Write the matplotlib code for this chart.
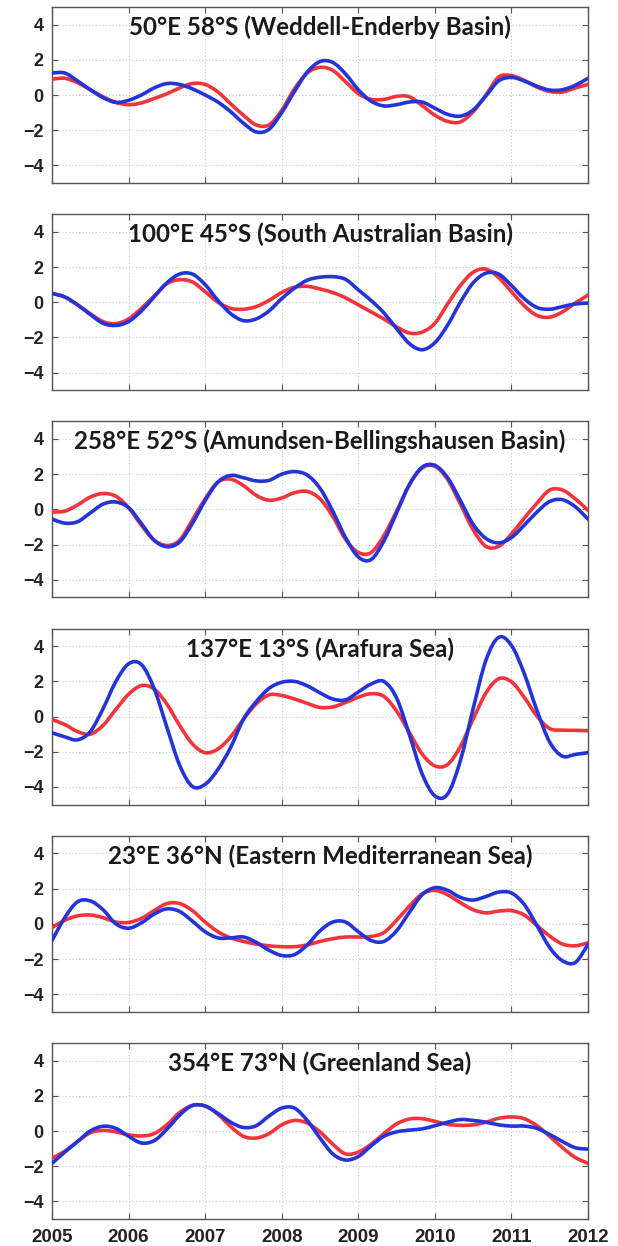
import numpy as np
import matplotlib
matplotlib.use("Agg")
import matplotlib.pyplot as plt
from matplotlib.path import Path
from matplotlib.patches import PathPatch

# Time axis: two-monthly samples from 2005 to 2012
months = np.arange(43)
time = 2005 + months / 6.0

titles = [
    "50°E 58°S (Weddell-Enderby Basin)",
    "100°E 45°S (South Australian Basin)",
    "258°E 52°S (Amundsen-Bellingshausen Basin)",
    "137°E 13°S (Arafura Sea)",
    "23°E 36°N (Eastern Mediterranean Sea)",
    "354°E 73°N (Greenland Sea)",
]

weddell_red = [0.9, 0.95, 0.7, 0.3, -0.1, -0.42, -0.55, -0.45, -0.2, 0.07, 0.4, 0.65, 0.6,
               0.17, -0.5, -1.15, -1.7, -1.7, -0.87, 0.35, 1.25, 1.57, 1.4, 0.75, 0.08,
               -0.25, -0.25, -0.08, -0.1, -0.6, -1.15, -1.5, -1.53, -0.95, 0.0, 1.02, 1.1,
               0.83, 0.45, 0.2, 0.17, 0.4, 0.6]
weddell_blue = [1.25, 1.25, 0.8, 0.3, -0.15, -0.42, -0.3, 0.0, 0.4, 0.65, 0.6, 0.35, 0.0,
                -0.4, -0.95, -1.6, -2.1, -1.95, -1.0, 0.2, 1.3, 1.9, 1.85, 1.2, 0.3,
                -0.35, -0.62, -0.55, -0.4, -0.4, -0.75, -1.1, -1.2, -0.85, -0.05, 0.8, 1.0,
                0.8, 0.5, 0.28, 0.3, 0.55, 0.95]

australian_red = [0.5, 0.3, -0.15, -0.65, -1.1, -1.22, -0.95, -0.35, 0.35, 1.05, 1.28, 1.15, 0.6,
                  0.0, -0.35, -0.4, -0.25, 0.1, 0.55, 0.85, 0.9, 0.75, 0.55, 0.25, -0.15,
                  -0.55, -0.95, -1.4, -1.75, -1.7, -1.2, -0.1, 0.95, 1.7, 1.88, 1.4, 0.6,
                  -0.2, -0.75, -0.85, -0.55, -0.05, 0.4]
australian_blue = [0.5, 0.3, -0.15, -0.7, -1.2, -1.32, -1.1, -0.5, 0.3, 1.1, 1.6, 1.6, 1.0,
                   0.1, -0.65, -1.05, -0.95, -0.5, 0.2, 0.8, 1.25, 1.42, 1.45, 1.3, 0.7,
                   0.1, -0.6, -1.5, -2.35, -2.7, -2.3, -1.3, 0.0, 1.1, 1.65, 1.6, 0.95,
                   0.2, -0.3, -0.4, -0.25, -0.1, -0.05]

amundsen_red = [-0.15, -0.1, 0.25, 0.7, 0.9, 0.75, 0.1, -0.9, -1.75, -2.05, -1.75, -0.6, 0.6,
                1.55, 1.72, 1.35, 0.8, 0.52, 0.65, 0.95, 1.02, 0.6, -0.4, -1.7, -2.45,
                -2.45, -1.5, -0.1, 1.4, 2.35, 2.45, 1.7, 0.3, -1.15, -2.1, -2.1, -1.4,
                -0.5, 0.35, 1.1, 1.1, 0.6, -0.05]
amundsen_blue = [-0.55, -0.78, -0.7, -0.2, 0.3, 0.42, 0.1, -0.8, -1.75, -2.12, -1.85, -0.8, 0.5,
                 1.55, 1.93, 1.8, 1.62, 1.65, 2.0, 2.15, 1.95, 1.2, -0.1, -1.6, -2.7,
                 -2.85, -1.8, -0.2, 1.4, 2.4, 2.5, 1.8, 0.5, -0.85, -1.65, -1.9, -1.6,
                 -0.9, -0.15, 0.45, 0.55, 0.15, -0.55]

arafura_red = [-0.17, -0.45, -0.85, -1.0, -0.5, 0.4, 1.27, 1.76, 1.57, 0.71, -0.5, -1.55, -2.05,
               -1.84, -1.15, -0.15, 0.72, 1.23, 1.2, 1.0, 0.75, 0.52, 0.55, 0.8, 1.1,
               1.3, 1.15, 0.32, -0.9, -2.12, -2.8, -2.72, -1.7, -0.14, 1.34, 2.15, 1.98,
               1.1, 0.03, -0.68, -0.77, -0.78, -0.8]
arafura_blue = [-0.92, -1.15, -1.32, -0.85, 0.45, 1.99, 3.0, 2.96, 1.6, -0.6, -2.76, -3.97, -3.85,
                -3.0, -1.75, -0.15, 0.85, 1.6, 1.95, 2.0, 1.75, 1.35, 1.0, 0.95, 1.4,
                1.85, 2.0, 1.06, -1.02, -3.25, -4.5, -4.4, -2.5, 0.45, 3.2, 4.5, 4.05,
                2.45, 0.35, -1.45, -2.25, -2.15, -2.05]

mediterranean_red = [-0.22, 0.2, 0.45, 0.5, 0.35, 0.1, 0.08, 0.3, 0.75, 1.15, 1.15, 0.75, 0.1,
                     -0.45, -0.8, -1.0, -1.15, -1.25, -1.3, -1.3, -1.2, -1.0, -0.85, -0.75, -0.75,
                     -0.72, -0.5, 0.2, 1.0, 1.7, 1.9, 1.65, 1.2, 0.8, 0.62, 0.72, 0.75,
                     0.5, -0.1, -0.7, -1.15, -1.25, -1.08]
mediterranean_blue = [-0.95, 0.35, 1.25, 1.3, 0.8, 0.0, -0.25, 0.05, 0.55, 0.85, 0.7, 0.15, -0.45,
                      -0.8, -0.8, -0.75, -1.05, -1.5, -1.8, -1.75, -1.2, -0.4, 0.1, 0.1, -0.45,
                      -0.95, -1.0, -0.4, 0.65, 1.65, 2.05, 1.9, 1.5, 1.35, 1.55, 1.8, 1.75,
                      1.1, -0.1, -1.35, -2.1, -2.2, -1.17]

greenland_red = [-1.54, -1.15, -0.6, -0.1, 0.03, -0.05, -0.22, -0.28, -0.15, 0.35, 1.05, 1.45, 1.42,
                 0.95, 0.25, -0.3, -0.4, -0.15, 0.35, 0.6, 0.45, -0.05, -0.75, -1.3, -1.2,
                 -0.75, -0.15, 0.4, 0.68, 0.7, 0.55, 0.38, 0.32, 0.35, 0.5, 0.72, 0.8,
                 0.7, 0.3, -0.3, -0.95, -1.5, -1.84]
greenland_blue = [-1.84, -1.2, -0.6, 0.0, 0.27, 0.15, -0.3, -0.68, -0.55, 0.1, 0.9, 1.45, 1.42,
                  1.0, 0.5, 0.2, 0.3, 0.85, 1.3, 1.3, 0.6, -0.4, -1.3, -1.65, -1.45,
                  -0.85, -0.3, -0.05, 0.05, 0.12, 0.3, 0.5, 0.65, 0.6, 0.5, 0.35, 0.28,
                  0.28, 0.15, -0.2, -0.6, -0.95, -1.03]

red_series = [weddell_red, australian_red, amundsen_red, arafura_red, mediterranean_red, greenland_red]
blue_series = [weddell_blue, australian_blue, amundsen_blue, arafura_blue, mediterranean_blue, greenland_blue]

year_ticks = [2005, 2006, 2007, 2008, 2009, 2010, 2011, 2012]
value_ticks = [-4, -2, 0, 2, 4]

RED = "#f5333a"
BLUE = "#2334d8"
TICK_FONT = ["Liberation Sans", "DejaVu Sans"]
TITLE_FONT = ["Lato", "DejaVu Sans"]


def smooth_curve(ax, x, y, color, z):
    """Draw a curve passing through every (x, y) sample as a chain of
    cubic Bezier segments (Catmull-Rom tangents)."""
    pts = np.column_stack([x, y]).astype(float)
    n = len(pts)
    verts = [pts[0]]
    codes = [Path.MOVETO]
    for i in range(n - 1):
        p0 = pts[max(i - 1, 0)]
        p1 = pts[i]
        p2 = pts[i + 1]
        p3 = pts[min(i + 2, n - 1)]
        c1 = p1 + (p2 - p0) / 6.0
        c2 = p2 - (p3 - p1) / 6.0
        verts += [c1, c2, p2]
        codes += [Path.CURVE4] * 3
    patch = PathPatch(Path(verts, codes), facecolor="none", edgecolor=color,
                      lw=2.6, capstyle="round", joinstyle="round", zorder=z)
    ax.add_patch(patch)


W, H = 618, 1246
fig = plt.figure(figsize=(W / 100, H / 100), dpi=100)

left_px, right_px = 52, 588
panel_h = 176
panel_step = 207.2
first_top = 7

for i in range(6):
    top = first_top + i * panel_step
    ax = fig.add_axes([left_px / W, 1 - (top + panel_h) / H,
                       (right_px - left_px) / W, panel_h / H])
    smooth_curve(ax, time, red_series[i], RED, 3)
    smooth_curve(ax, time, blue_series[i], BLUE, 4)
    ax.set_xlim(2005, 2012)
    ax.set_ylim(-5, 5)
    ax.set_xticks(year_ticks)
    ax.set_yticks(value_ticks)
    ax.grid(True, color="#c8c8c8", linestyle=(0, (1, 2)), linewidth=0.8)
    ax.tick_params(direction="in", length=4, width=0.8, top=True, right=True,
                   colors="#555555", labelcolor="#222222")
    ax.tick_params(axis="y", pad=6)
    ax.tick_params(axis="x", pad=7)
    for lbl in ax.get_yticklabels():
        lbl.set_fontfamily(TICK_FONT)
        lbl.set_fontweight("bold")
        lbl.set_fontsize(13)
    if i == 5:
        for lbl in ax.get_xticklabels():
            lbl.set_fontfamily(TICK_FONT)
            lbl.set_fontweight("bold")
            lbl.set_fontsize(13.5)
    else:
        ax.set_xticklabels([])
    for sp in ax.spines.values():
        sp.set_color("#555555")
        sp.set_linewidth(1.0)
    ax.text(0.5, 3.85, titles[i], transform=ax.get_yaxis_transform(),
            ha="center", va="center", fontsize=17.4, fontweight="bold",
            family=TITLE_FONT, color="#1a1a1a", zorder=5)

fig.savefig("out.png", dpi=100)
